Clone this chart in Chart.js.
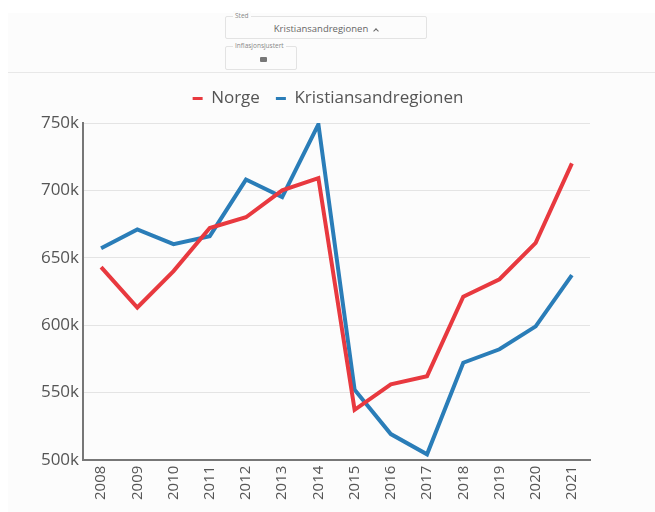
<!DOCTYPE html>
<html>
<head>
<meta charset="utf-8">
<script src="https://cdn.jsdelivr.net/npm/chart.js@4"></script>
<style>
  html, body { margin: 0; background: #fff; }
  body { width: 655px; height: 512px; position: relative; overflow: hidden; font-family: "Open Sans", sans-serif; }
  #page { position: absolute; left: 8px; top: 13px; width: 647px; height: 499px; background: #fcfcfc; }
  #rule { position: absolute; left: 8px; top: 72px; width: 647px; height: 1px; background: #e8e8e8; }
  .box { position: absolute; border: 1px solid #e3e3e3; border-radius: 2px; color: #666; text-align: center; }
  .box span.tag { position: absolute; top: -6px; left: 7px; font-size: 6.5px; line-height: 9px; padding: 0 2px; background: #fcfcfc; color: #888; }
  #place { left: 225px; top: 16px; width: 200px; height: 21px; font-size: 9.5px; line-height: 24px; }
  #chevron { display: inline-block; width: 3px; height: 3px; margin-left: 6px; border-left: 1px solid #666; border-top: 1px solid #666; transform: translateY(1px) rotate(45deg); }
  #infl { left: 225px; top: 46px; width: 70px; height: 22px; }
  #toggle { position: absolute; left: 34px; top: 10px; width: 7px; height: 5px; background: #777; border-radius: 1px; }
  canvas { position: absolute; left: 0; top: 0; }
</style>
</head>
<body>
<div id="page"></div>
<div id="rule"></div>
<div class="box" id="place"><span class="tag">Sted</span>Kristiansandregionen<i id="chevron"></i></div>
<div class="box" id="infl"><span class="tag">Inflasjonsjustert</span><div id="toggle"></div></div>
<canvas id="incomeChart" width="655" height="512"></canvas>
<script>
const years = ["2008", "2009", "2010", "2011", "2012", "2013", "2014", "2015", "2016", "2017", "2018", "2019", "2020", "2021"];
const norge = [643000, 613000, 640000, 672000, 680000, 700000, 709000, 537000, 556000, 562000, 621000, 634000, 661000, 720000];
const kristiansand = [657000, 671000, 660000, 666000, 708000, 695000, 749000, 552000, 519000, 504000, 572000, 582000, 599000, 637000];

// the legend is centred on the whole page, not on the plot, and sits a bit higher
const shiftLegend = {
  id: "shiftLegend",
  afterUpdate(chart) {
    chart.legend.left += 33;
    chart.legend.right += 33;
    chart.legend.top -= 6;
    chart.legend.bottom -= 6;
  }
};

new Chart(document.getElementById("incomeChart"), {
  type: "line",
  plugins: [shiftLegend],
  data: {
    labels: years,
    datasets: [
      { label: "Norge", data: norge, borderColor: "#e8393f", backgroundColor: "#e8393f", borderWidth: 4, pointRadius: 0, tension: 0 },
      { label: "Kristiansandregionen", data: kristiansand, borderColor: "#2a7db8", backgroundColor: "#2a7db8", borderWidth: 4, pointRadius: 0, tension: 0 }
    ]
  },
  options: {
    responsive: false,
    animation: false,
    layout: { padding: { top: 80, left: 0, right: 65, bottom: 6 } },
    plugins: {
      tooltip: { enabled: false },
      legend: {
        labels: {
          usePointStyle: true,
          pointStyle: "line",
          pointStyleWidth: 10,
          boxHeight: 13,
          padding: 16,
          color: "#555",
          font: { family: "Open Sans", size: 17 },
          generateLabels: chart => Chart.defaults.plugins.legend.labels.generateLabels(chart).map(item => ({ ...item, lineWidth: 3 }))
        }
      }
    },
    scales: {
      x: {
        offset: true,
        border: { color: "#777", width: 2 },
        grid: { display: false, drawTicks: false },
        ticks: { color: "#555", font: { family: "Open Sans", size: 15 }, minRotation: 90, maxRotation: 90, padding: 6, autoSkip: false }
      },
      y: {
        min: 500000,
        max: 750000,
        afterFit: scale => { scale.width = 83; },
        border: { color: "#777", width: 2 },
        grid: { color: "#e4e4e4", drawTicks: false },
        ticks: {
          stepSize: 50000,
          color: "#555",
          padding: 4,
          font: { family: "Open Sans", size: 17 },
          callback: v => v / 1000 + "k"
        }
      }
    }
  }
});
</script>
</body>
</html>
